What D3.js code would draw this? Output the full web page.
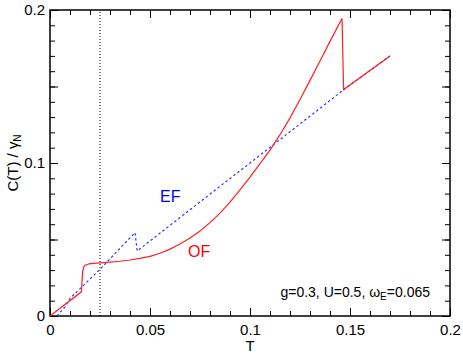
<!DOCTYPE html>
<html>
<head>
<meta charset="utf-8">
<script src="https://cdn.jsdelivr.net/npm/d3@7"></script>
<style>
body{margin:0;background:#fff;}
svg text{font-family:"Liberation Sans",Arial,Helvetica,sans-serif;}
</style>
</head>
<body>
<div id="chart"></div>
<script>
////////////////////////////////////////
// data

var of_T = [0,0.0157,0.0163,0.0168,0.0175,0.0185,0.02,0.025,0.03,0.035,0.04,0.045,0.05,0.055,0.06,0.065,0.07,0.075,0.08,0.085,0.09,0.095,0.1,0.105,0.11,0.115,0.12,0.125,0.13,0.135,0.14,0.146,0.1468,0.17];
var of_C = [0,0.0158,0.029,0.0318,0.0330,0.0337,0.0342,0.0347,0.0352,0.0358,0.0366,0.0377,0.039,0.0410,0.0437,0.0470,0.0510,0.0556,0.0610,0.0672,0.0744,0.0824,0.0908,0.0996,0.1084,0.1185,0.1295,0.1415,0.1540,0.1667,0.1795,0.1945,0.148,0.170];

var ef_T = [0.0035,0.0075,0.01,0.025,0.0425,0.0436,0.147,0.17];
var ef_C = [0,0.006,0.0115,0.0305,0.0545,0.0425,0.148,0.17];

var tc_T = 0.025;

var xMajor = [0,0.05,0.1,0.15,0.2];
var xMajorLabels = ['0','0.05','0.1','0.15','0.2'];
var yMajor = [0,0.1,0.2];
var yMajorLabels = ['0','0.1','0.2'];
var yMid = [0.05,0.15];

////////////////////////////////////////
// layout

var W = 463, H = 355;
var pLeft = 50, pRight = 450, pTop = 10, pBottom = 316;

var svg = d3.select('#chart').append('svg')
	.attr('width',W)
	.attr('height',H);

var x = d3.scaleLinear().domain([0,0.2]).range([pLeft,pRight]);
var y = d3.scaleLinear().domain([0,0.2]).range([pBottom,pTop]);

var xMinor = d3.range(0,21).map(function(i){return i/100;});
var yMinor = d3.range(0,21).map(function(i){return i/100;});

////////////////////////////////////////
// axes (ticks inward on all four sides)

function addAxis(axis,tx,ty){
	var g = svg.append('g')
		.attr('transform','translate('+tx+','+ty+')')
		.call(axis);
	g.select('.domain').remove();
	g.selectAll('line').attr('stroke','#000').attr('stroke-width',1);
	return g;
}

addAxis(d3.axisBottom(x).tickValues(xMinor).tickSize(-5).tickFormat(''),0,pBottom);
addAxis(d3.axisTop(x).tickValues(xMinor).tickSize(-5).tickFormat(''),0,pTop);
addAxis(d3.axisLeft(y).tickValues(yMinor).tickSize(-5).tickFormat(''),pLeft,0);
addAxis(d3.axisRight(y).tickValues(yMinor).tickSize(-5).tickFormat(''),pRight,0);

addAxis(d3.axisTop(x).tickValues(xMajor).tickSize(-8).tickFormat(''),0,pTop);
addAxis(d3.axisRight(y).tickValues(yMajor.concat(yMid)).tickSize(-8).tickFormat(''),pRight,0);
addAxis(d3.axisLeft(y).tickValues(yMid).tickSize(-8).tickFormat(''),pLeft,0);

var gx = addAxis(d3.axisBottom(x).tickValues(xMajor).tickSize(-8).tickPadding(8)
	.tickFormat(function(d,i){return xMajorLabels[i];}),0,pBottom);
gx.selectAll('text').attr('font-size',15).attr('fill','#000');

var gy = addAxis(d3.axisLeft(y).tickValues(yMajor).tickSize(-8).tickPadding(5)
	.tickFormat(function(d,i){return yMajorLabels[i];}),pLeft,0);
gy.selectAll('text').attr('font-size',15).attr('fill','#000');

svg.append('rect')
	.attr('x',pLeft)
	.attr('y',pTop)
	.attr('width',pRight-pLeft)
	.attr('height',pBottom-pTop)
	.attr('fill','none')
	.attr('stroke','#000')
	.attr('stroke-width',1.5);

////////////////////////////////////////
// lines

svg.append('line')
	.attr('x1',x(tc_T)).attr('x2',x(tc_T))
	.attr('y1',y(0)).attr('y2',y(0.2))
	.attr('stroke','#000')
	.attr('stroke-width',1)
	.attr('stroke-dasharray','1,2');

var line = d3.line()
	.x(function(d){return x(d[0]);})
	.y(function(d){return y(d[1]);});

svg.append('path')
	.datum(d3.zip(ef_T,ef_C))
	.attr('d',line)
	.attr('fill','none')
	.attr('stroke','#3333ff')
	.attr('stroke-width',1.2)
	.attr('stroke-dasharray','2.5,2.5');

svg.append('path')
	.datum(d3.zip(of_T,of_C))
	.attr('d',line)
	.attr('fill','none')
	.attr('stroke','#ff2020')
	.attr('stroke-width',1.2);

////////////////////////////////////////
// labels

svg.append('text')
	.attr('x',160).attr('y',202)
	.attr('fill','#0000ee')
	.attr('font-size',16)
	.text('EF');

svg.append('text')
	.attr('x',188).attr('y',257)
	.attr('fill','#ff0000')
	.attr('font-size',16)
	.text('OF');

var ann = svg.append('text')
	.attr('x',430).attr('y',297)
	.attr('text-anchor','end')
	.attr('font-size',14)
	.attr('fill','#000');
ann.append('tspan').text('g=0.3, U=0.5, \u03c9');
ann.append('tspan').attr('font-size',10).attr('dy',3).text('E');
ann.append('tspan').attr('dy',-3).text('=0.065');

svg.append('text')
	.attr('x',250).attr('y',351)
	.attr('text-anchor','middle')
	.attr('font-size',15)
	.attr('fill','#000')
	.text('T');

var yl = svg.append('text')
	.attr('transform','translate(18,163) rotate(-90)')
	.attr('text-anchor','middle')
	.attr('font-size',15)
	.attr('fill','#000');
yl.append('tspan').text('C(T) / \u03b3');
yl.append('tspan').attr('font-size',10).attr('dy',3).text('N');
</script>
</body>
</html>
